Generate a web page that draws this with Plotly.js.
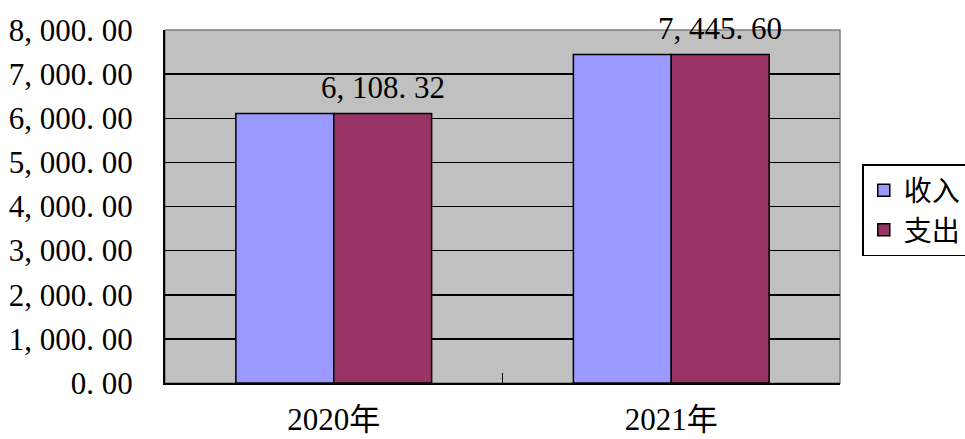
<!DOCTYPE html>
<html><head><meta charset="utf-8">
<script src="https://cdn.plot.ly/plotly-3.0.1.min.js"></script>
<style>html,body{margin:0;padding:0;background:#fff;}#chart{width:965px;height:439px;}</style>
</head><body><div id="chart"></div>
<script>
const categories = ['2020年', '2021年'];
const incomeValues = [6108.32, 7445.60];
const expenseValues = [6108.32, 7445.60];
const expenseLabels = ['6, 108. 32', '7, 445. 60'];
const tickValues = [0, 1000, 2000, 3000, 4000, 5000, 6000, 7000, 8000];
const tickLabels = ['0. 00', '1, 000. 00', '2, 000. 00', '3, 000. 00', '4, 000. 00', '5, 000. 00', '6, 000. 00', '7, 000. 00', '8, 000. 00'];

const FONT = '"Liberation Serif", "Noto Sans CJK SC", serif';
const BARGAP = 0.42;
const PLOT_W = 965 - 165 - 125;
const barOffset = (PLOT_W / categories.length) * (1 - BARGAP) / 4;

const traces = [
  {type: 'bar', name: '收入', x: categories, y: incomeValues,
   marker: {color: '#9999FF', line: {color: '#000', width: 1.5}}},
  {type: 'bar', name: '支出', x: categories, y: expenseValues,
   marker: {color: '#993366', line: {color: '#000', width: 1.5}}}
];

const annotations = categories.map((c, i) => ({
  x: c, y: expenseValues[i], xref: 'x', yref: 'y',
  text: expenseLabels[i], showarrow: false,
  xanchor: 'center', yanchor: 'bottom', xshift: barOffset, yshift: 6,
  font: {family: FONT, size: 31, color: '#000'}
}));

const layout = {
  width: 965, height: 439,
  margin: {l: 165, r: 125, t: 30, b: 56, autoexpand: false},
  paper_bgcolor: '#fff', plot_bgcolor: '#C0C0C0',
  font: {family: FONT, size: 31, color: '#000'},
  barmode: 'group', bargap: BARGAP, bargroupgap: 0,
  showlegend: true,
  legend: {x: 1.033, y: 0.62, xanchor: 'left', yanchor: 'top',
    bordercolor: '#000', borderwidth: 1.5, bgcolor: '#fff',
    font: {family: FONT, size: 28}, tracegroupgap: 0, itemwidth: 30},
  xaxis: {type: 'category', showline: true, linecolor: '#000', linewidth: 2,
    ticks: 'inside', ticklen: 10, tickcolor: '#000', tickwidth: 1.5, tickson: 'boundaries',
    ticklabelstandoff: 8, showgrid: false, zeroline: false},
  yaxis: {range: [0, 8000], tickvals: tickValues, ticktext: tickLabels,
    showline: true, linecolor: '#000', linewidth: 2,
    ticks: 'inside', ticklen: 10, tickcolor: '#000', tickwidth: 1.5,
    ticklabelstandoff: 24,
    showgrid: true, gridcolor: '#000', gridwidth: 1.5, zeroline: false},
  annotations: annotations,
  shapes: [{type: 'rect', xref: 'paper', yref: 'paper', x0: 0, x1: 1, y0: 0, y1: 1,
    line: {color: '#808080', width: 1.5}, layer: 'below'}]
};

Plotly.newPlot('chart', traces, layout, {displayModeBar: false, staticPlot: true});
</script>
</body></html>
